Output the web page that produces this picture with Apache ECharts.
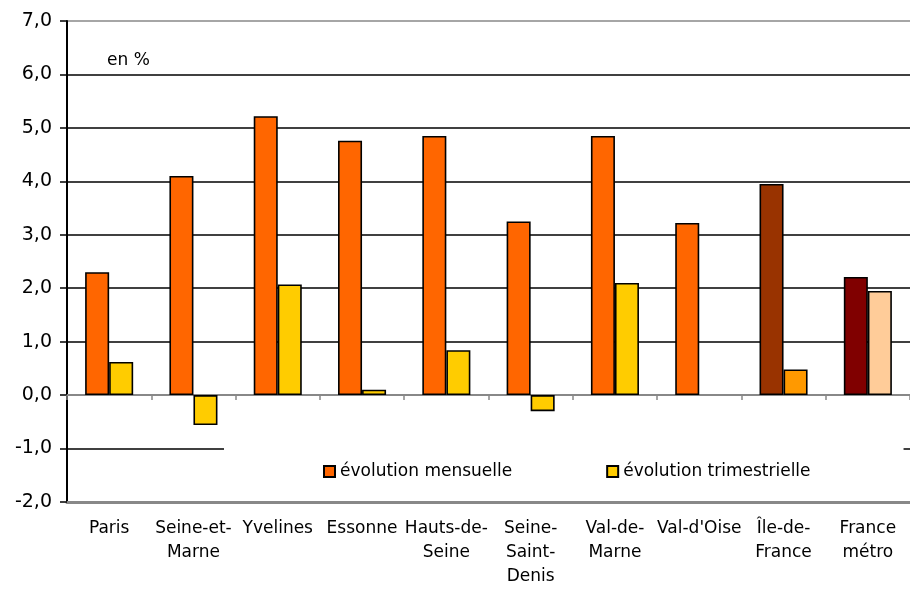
<!DOCTYPE html>
<html>
<head>
<meta charset="utf-8">
<script src="https://cdn.jsdelivr.net/npm/echarts@6/dist/echarts.min.js"></script>
<style>
html,body{margin:0;padding:0;background:#fff;}
#chart{width:910px;height:589px;}
</style>
</head>
<body>
<div id="chart"></div>
<script>
var categories = ["Paris", "Seine-et-\nMarne", "Yvelines", "Essonne", "Hauts-de-\nSeine", "Seine-\nSaint-\nDenis", "Val-de-\nMarne", "Val-d'Oise", "Île-de-\nFrance", "France\nmétro"];
var mensuelle = [2.30, 4.10, 5.22, 4.76, 4.85, 3.25, 4.85, 3.22, 3.95, 2.21];
var trimestrielle = [0.62, -0.56, 2.07, 0.10, 0.84, -0.30, 2.10, null, 0.48, 1.95];
var seriesNames = ["évolution mensuelle", "évolution trimestrielle"];
var unitLabel = "en %";

var FONT = "DejaVu Sans";
var specialMens = {8: "#993300", 9: "#800000"};
var specialTrim = {8: "#FF9900", 9: "#FFCC99"};

function buildData(values, special) {
  return values.map(function (v, i) {
    if (v === null) return '-';
    if (special[i]) return {value: v, itemStyle: {color: special[i]}};
    return v;
  });
}

var chart = echarts.init(document.getElementById('chart'), null, {renderer: 'canvas'});
chart.setOption({
  backgroundColor: '#fff',
  animation: false,
  title: {
    text: unitLabel,
    left: 102, top: 47,
    textStyle: {fontFamily: FONT, fontSize: 17, fontWeight: 'normal', color: '#000'}
  },
  grid: {left: 67, right: 0, top: 21, bottom: 81, containLabel: false},
  legend: {
    left: 224, top: 430,
    padding: [33, 93, 12, 99],
    backgroundColor: '#fff',
    itemWidth: 11, itemHeight: 11, itemGap: 94,
    icon: 'rect',
    textStyle: {fontFamily: FONT, fontSize: 17, color: '#000'},
    data: seriesNames
  },
  xAxis: [{
    type: 'category',
    data: categories,
    position: 'bottom',
    axisLine: {onZero: false, lineStyle: {color: '#888', width: 3}},
    axisTick: {show: false},
    axisLabel: {fontFamily: FONT, fontSize: 17, color: '#000', lineHeight: 24, margin: 15, interval: 0}
  }, {
    type: 'category',
    data: categories,
    position: 'top',
    axisLine: {onZero: true, lineStyle: {color: '#888', width: 2}},
    axisTick: {show: true, inside: true, length: 5, lineStyle: {color: '#888', width: 1.5}},
    axisLabel: {show: false}
  }],
  yAxis: {
    type: 'value',
    min: -2, max: 7, interval: 1,
    axisLine: {show: true, lineStyle: {color: '#000', width: 2}},
    axisTick: {show: true, length: 7, lineStyle: {color: '#000', width: 1.5}},
    axisLabel: {
      fontFamily: FONT, fontSize: 19, color: '#000', margin: 15,
      formatter: function (v) { return v.toFixed(1).replace('.', ','); }
    },
    splitLine: {show: true, lineStyle: {color: ['#888', '#000', '#888', '#000', '#000', '#000', '#000', '#000', '#000', '#888'], width: 1.6}}
  },
  series: [{
    name: seriesNames[0],
    type: 'bar',
    xAxisIndex: 0,
    data: buildData(mensuelle, specialMens),
    barGap: 0,
    barCategoryGap: '43%',
    itemStyle: {color: '#FF6600', borderColor: '#000', borderWidth: 1.6}
  }, {
    name: seriesNames[1],
    type: 'bar',
    xAxisIndex: 0,
    data: buildData(trimestrielle, specialTrim),
    barGap: 0,
    barCategoryGap: '43%',
    itemStyle: {color: '#FFCC00', borderColor: '#000', borderWidth: 1.6}
  }]
});
</script>
</body>
</html>
